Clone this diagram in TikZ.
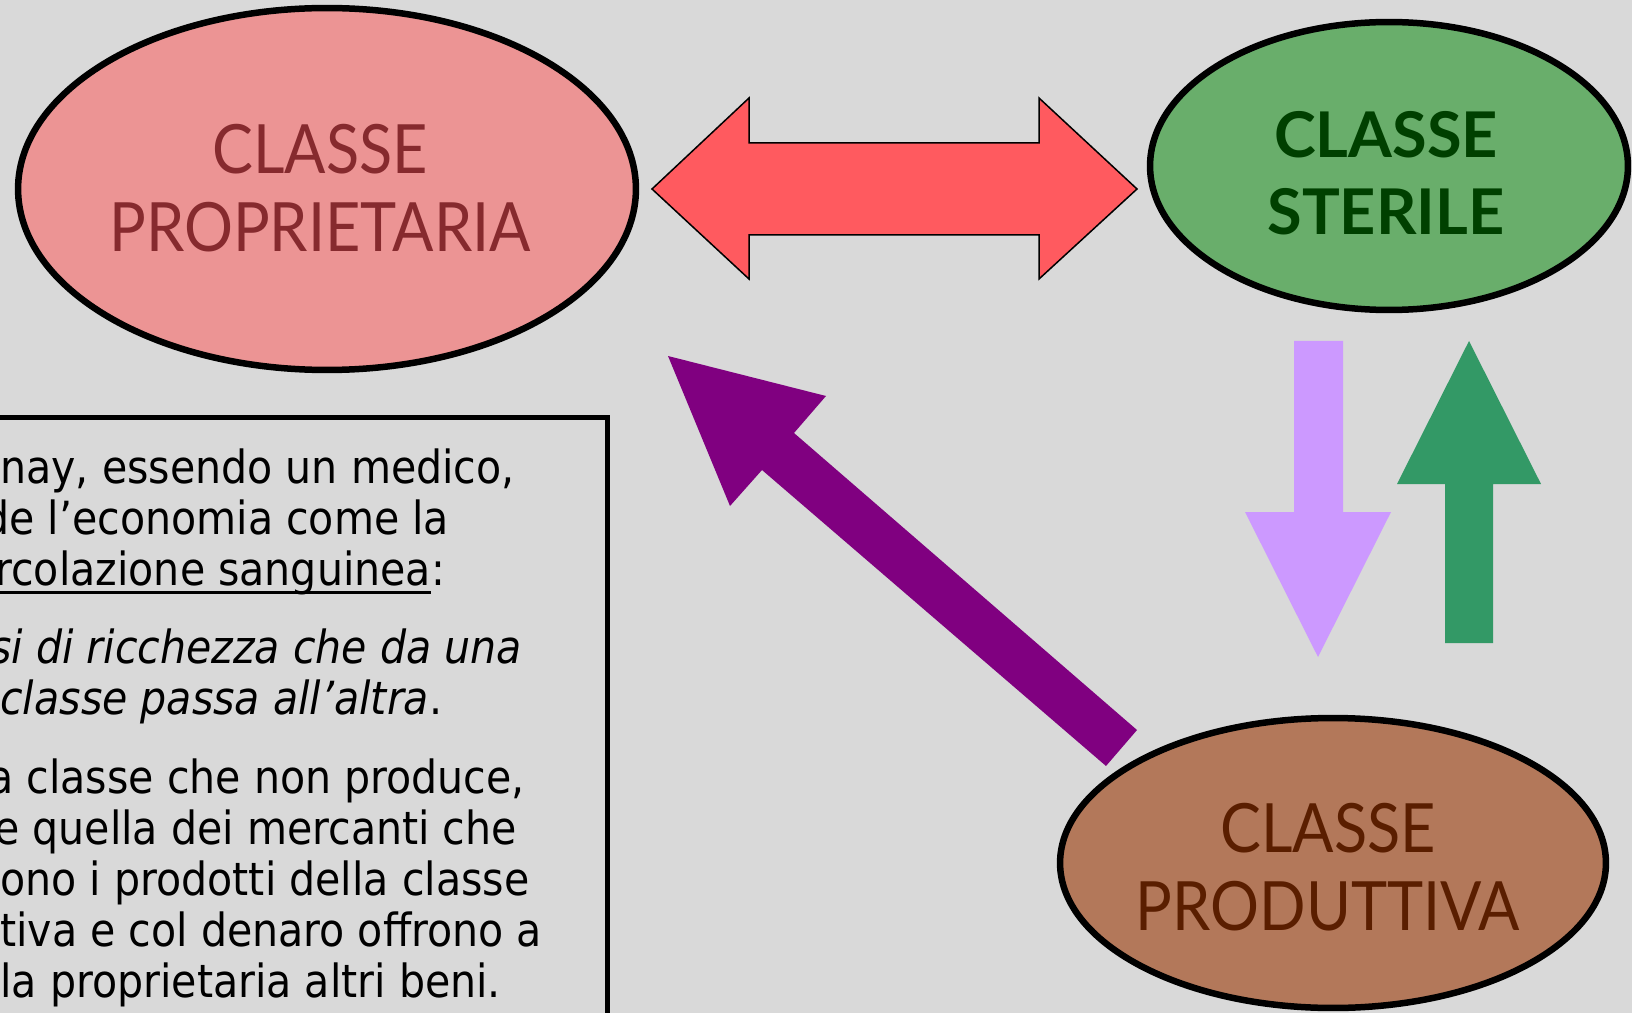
\documentclass[tikz,border=0pt]{standalone}
\usepackage{fontspec}
\setmainfont[FakeStretch=0.9]{DejaVu Sans}
\newfontfamily\classefont[FakeStretch=0.9]{Lato}
\newfontfamily\sterilefont{Lato}
\usetikzlibrary{shapes.geometric}

\definecolor{sfondo}{HTML}{D9D9D9}
\definecolor{propfill}{HTML}{EC9494}
\definecolor{proptext}{HTML}{862A2E}
\definecolor{sterfill}{HTML}{69AE6B}
\definecolor{stertext}{HTML}{004000}
\definecolor{prodfill}{HTML}{B3785A}
\definecolor{prodtext}{HTML}{5A1E00}
\definecolor{scambio}{HTML}{FF5A5F}
\definecolor{lilla}{HTML}{CC99FF}
\definecolor{verde}{HTML}{339966}
\definecolor{viola}{HTML}{800080}

\begin{document}
\begin{tikzpicture}[x=0.02cm, y=-0.02cm,
    classe/.style={ellipse, draw=black, line width=0.13cm, inner sep=0pt},
    etichetta/.style={align=center, inner sep=0pt},
    riga/.style={anchor=base west, inner sep=0pt, font=\fontsize{26pt}{29.2pt}\selectfont}]
    % page
    \fill[sfondo] (0,0) rectangle (1632,1013);
    \useasboundingbox (0,0) rectangle (1632,1013);

    % the three classes
    \node[classe, fill=propfill, minimum width=12.36cm, minimum height=7.24cm](prop) at (327, 189){};
    \node[etichetta, text=proptext, font=\classefont\fontsize{38.7pt}{44.4pt}\selectfont](propt)
      at (320, 188){CLASSE\\PROPRIETARIA};
    \node[classe, fill=sterfill, minimum width=9.56cm, minimum height=5.76cm](steril) at (1389, 166){};
    \node[etichetta, text=stertext, font=\sterilefont\bfseries\fontsize{35.9pt}{43.6pt}\selectfont](sterilt)
      at (1386, 173){CLASSE\\STERILE};
    \node[classe, fill=prodfill, minimum width=10.92cm, minimum height=5.8cm](prod) at (1333, 863){};
    \node[etichetta, text=prodtext, font=\classefont\fontsize{38.7pt}{44pt}\selectfont](prodt)
      at (1328, 867){CLASSE\\PRODUTTIVA};

    % prop <-> steril
    \draw[fill=scambio, line width=0.03cm, line join=miter]
      (652, 189) -- (749, 98) -- (749, 143) -- (1039, 143) -- (1039, 98)
      -- (1137, 189) -- (1039, 279) -- (1039, 235) -- (749, 235) -- (749, 279) -- cycle;
    % steril -> prod
    \fill[lilla] (1294, 341) -- (1343, 341) -- (1343, 512) -- (1391, 512)
      -- (1318, 657) -- (1245, 512) -- (1294, 512) -- cycle;
    % prod -> steril
    \fill[verde] (1469, 341) -- (1541, 484) -- (1493, 484) -- (1493, 643)
      -- (1445, 643) -- (1445, 484) -- (1397, 484) -- cycle;
    % prod -> prop
    \fill[viola] (668, 356) -- (826, 396) -- (794, 433) -- (1137, 730)
      -- (1106, 766) -- (762, 470) -- (730, 506) -- cycle;

    % text box
    \draw[line width=0.1cm] (-20, 417) rectangle (607, 1040);
    \node[riga](r1) at (0, 483){nay, essendo un medico,};
    \node[riga](r2) at (-17, 534){de l’economia come la};
    \node[riga](r3) at (-5, 585){rcolazione sanguinea};
    \node[riga](r3b) at (r3.base east){:};
    \draw[line width=0.06cm] ([yshift=-0.14cm]r3.base west) -- ([yshift=-0.14cm]r3.base east);
    \node[riga](r4) at (-10, 663){\itshape si di ricchezza che da una};
    \node[riga](r5) at (0, 714){\textit{classe passa all’altra}.};
    \node[riga](r6) at (-12, 793){a classe che non produce,};
    \node[riga](r7) at (-6, 844){e quella dei mercanti che};
    \node[riga](r8) at (0, 895){ono i prodotti della classe};
    \node[riga](r9) at (0, 946){tiva e col denaro offrono a};
    \node[riga](r10) at (0, 997){la proprietaria altri beni.};
\end{tikzpicture}
\end{document}
